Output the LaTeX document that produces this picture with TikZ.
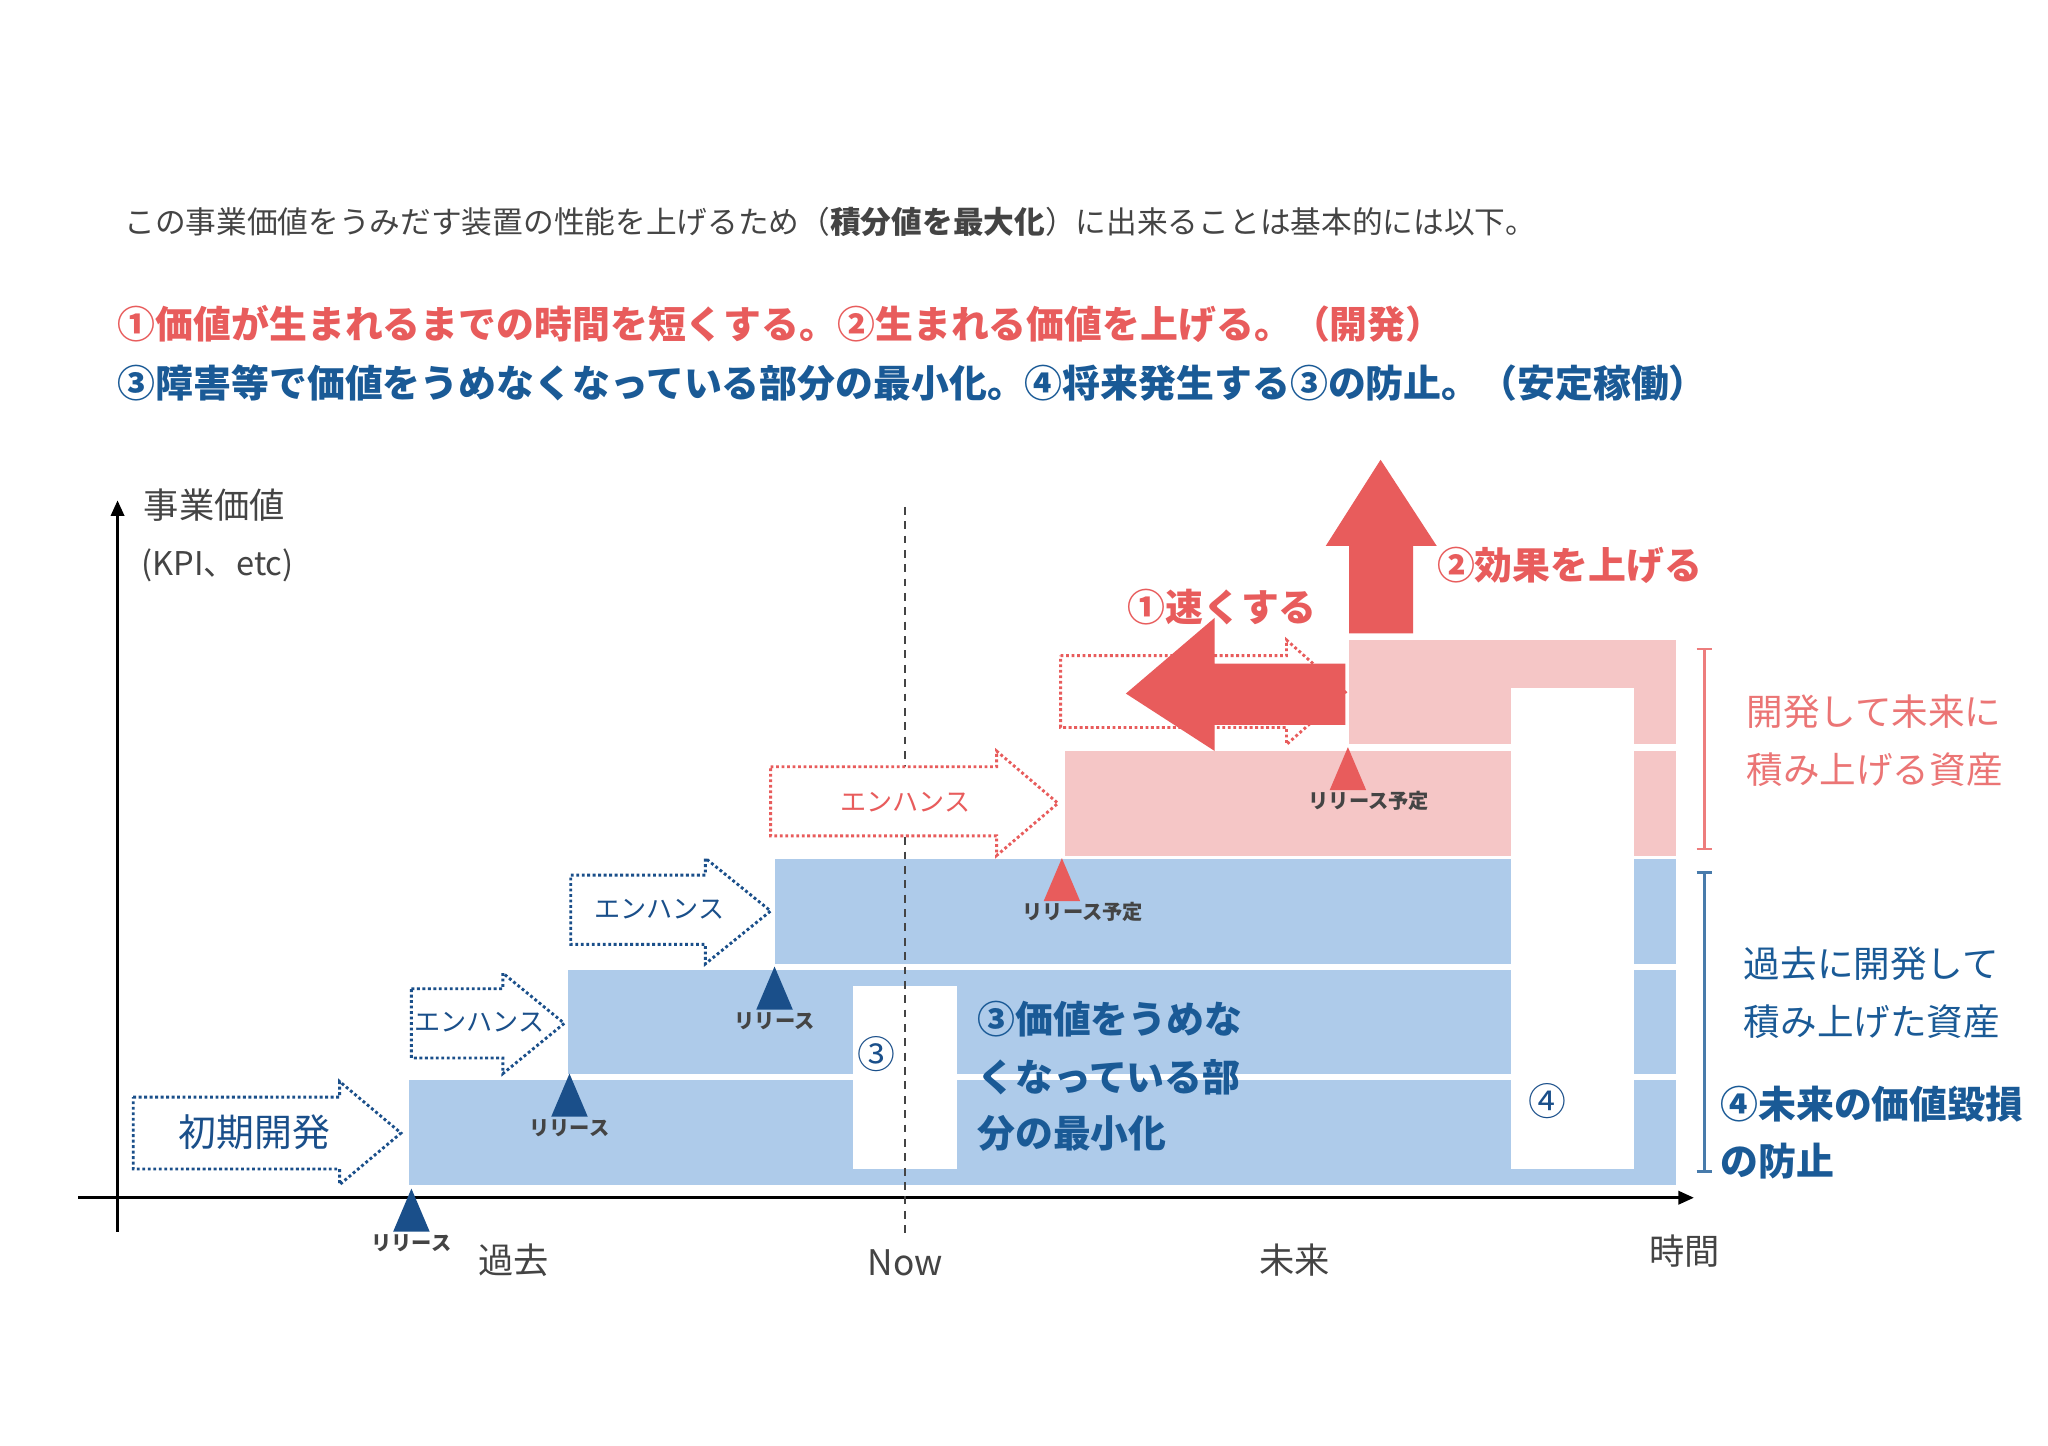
\documentclass[tikz,border=0pt]{standalone}
\usepackage{fontspec}
\setmainfont{Noto Sans CJK JP}
\usetikzlibrary{arrows.meta}
\definecolor{rd}{HTML}{E85C5C}
\definecolor{bl}{HTML}{1A5A96}
\definecolor{dbl}{HTML}{1A4F8A}
\definecolor{lbl}{HTML}{AECBEA}
\definecolor{pk}{HTML}{F5C6C6}
\definecolor{gy}{HTML}{444444}
\tikzset{
 fs/.style={font=\fontsize{#1}{#1}\selectfont},
 txt/.style={inner sep=0pt,anchor=west},
 dotb/.style={draw=dbl,line width=2.2pt,dotted,fill=white},
 dotr/.style={draw=rd,line width=2.2pt,dotted,fill=white},
 tri/.style={fill=dbl},
 trir/.style={fill=rd},
}
\newcommand{\rarr}[8]{\path[#1] (#2,#5)--(#3,#5)--(#3,#7)--(#4,{(#7+#8)/2})--(#3,#8)--(#3,#6)--(#2,#6)--cycle;}
\begin{document}
\begin{tikzpicture}[x=1pt,y=-1pt]
\useasboundingbox (0,0) rectangle (1568,1107);
\fill[white] (0,0) rectangle (1568,1107);
% header
\node[txt,fs=23.5,text=gy] (h1) at (95,170) {この事業価値をうみだす装置の性能を上げるため（\textbf{積分値を最大化}）に出来ることは基本的には以下。};
\node[txt,fs=29,text=rd,font=\bfseries\fontsize{29}{29}\selectfont] (h2) at (90,248) {①価値が生まれるまでの時間を短くする。②生まれる価値を上げる。（開発）};
\node[txt,fs=29,text=bl,font=\bfseries\fontsize{29}{29}\selectfont] (h3) at (90,293) {③障害等で価値をうめなくなっている部分の最小化。④将来発生する③の防止。（安定稼働）};
% bars
\fill[lbl] (313,827) rectangle (1283,907);
\fill[lbl] (435,743) rectangle (1283,822);
\fill[lbl] (593,658) rectangle (1283,738);
\fill[pk] (815,575) rectangle (1283,655);
\fill[pk] (1033,490) rectangle (1283,570);
\fill[white] (653,755) rectangle (733,895);
\fill[white] (1157,527) rectangle (1251,895);
% axes
\coordinate (yo) at (90,943); \coordinate (yt) at (90,383);
\coordinate (xo) at (60,917); \coordinate (xt) at (1297,917);
\draw[line width=2.5pt,-{Triangle[length=12pt,width=10pt]}] (yo)--(yt);
\draw[line width=2.5pt,-{Triangle[length=12pt,width=10pt]}] (xo)--(xt);
\coordinate (n1) at (693,388); \coordinate (n2) at (693,945);
\draw[gy,line width=2pt,dashed,dash pattern=on 6pt off 5pt] (n1)--(n2);
% dotted arrows
\rarr{dotb}{102}{260}{307}{840}{895}{828}{907}
\rarr{dotb}{315}{385}{432}{757}{810}{745}{822}
\rarr{dotb}{437}{540}{590}{670}{723}{657}{738}
\rarr{dotr}{590}{763}{810}{587}{640}{575}{655}
\rarr{dotr}{812}{985}{1030}{502}{557}{490}{570}
\node[fs=20,text=dbl] (e1) at (367,783) {エンハンス};
\node[fs=20,text=dbl] (e2) at (505,696) {エンハンス};
\node[fs=20,text=rd] (e3) at (693,614) {エンハンス};
\node[fs=29,text=dbl] (sk) at (195,867) {初期開発};
% big arrows
\fill[rd] (1030,508)--(930,508)--(930,473)--(862,531)--(930,575)--(930,555)--(1030,555)--cycle;
\fill[rd] (1033,485)--(1033,418)--(1015,418)--(1057,352)--(1100,418)--(1082,418)--(1082,485)--cycle;
% triangles
\fill[dbl] (301,943)--(329,943)--(315,910)--cycle;
\fill[dbl] (422,855)--(450,855)--(436,822)--cycle;
\fill[dbl] (579,773)--(607,773)--(593,740)--cycle;
\fill[rd] (799,690)--(827,690)--(813,657)--cycle;
\fill[rd] (1018,605)--(1046,605)--(1032,572)--cycle;
\node[fs=15.5,font=\bfseries\fontsize{15.5}{15.5}\selectfont,text=gy] (r1) at (315,952) {リリース};
\node[fs=15.5,font=\bfseries\fontsize{15.5}{15.5}\selectfont,text=gy] (r2) at (436,864) {リリース};
\node[fs=15.5,font=\bfseries\fontsize{15.5}{15.5}\selectfont,text=gy] (r3) at (593,782) {リリース};
\node[fs=15.5,font=\bfseries\fontsize{15.5}{15.5}\selectfont,text=gy] (r4) at (829,698) {リリース予定};
\node[fs=15.5,font=\bfseries\fontsize{15.5}{15.5}\selectfont,text=gy] (r5) at (1048,613) {リリース予定};
% axis labels
\node[txt,fs=27,text=gy] (yl1) at (110,387) {事業価値};
\node[txt,fs=25,text=gy] (yl2) at (108,433) {(KPI、etc)};
\node[fs=27,text=gy] (p) at (393,965) {過去};
\node[fs=27,text=gy] (nw) at (693,967) {Now};
\node[fs=27,text=gy] (f) at (991,965) {未来};
\node[fs=27,text=gy] (t) at (1290,958) {時間};
% labels
\node[fs=29,text=dbl] (c3) at (671,807) {③};
\node[fs=29,text=dbl] (c4) at (1185,843) {④};
\begin{scope}[every node/.style={txt,text=bl,font=\bfseries\fontsize{29}{29}\selectfont}]
\node (b1) at (748,780) {③価値をうめな};
\node (b2) at (748,825) {くなっている部};
\node (b3) at (748,868) {分の最小化};
\node (m1) at (1317,845) {④未来の価値毀損};
\node (m2) at (1317,889) {の防止};
\end{scope}
\begin{scope}[every node/.style={txt,text=rd,font=\bfseries\fontsize{29}{29}\selectfont}]
\node (q1) at (863,465) {①速くする};
\node (q2) at (1100,433) {②効果を上げる};
\end{scope}
% brackets
\draw[rd!80,line width=2pt] (1299,497)--(1311,497) (1305,497)--(1305,650) (1299,650)--(1311,650);
\draw[bl!80,line width=2pt] (1299,668)--(1311,668) (1305,668)--(1305,897) (1299,897)--(1311,897);
\node[txt,fs=28,text=rd!85] (k1) at (1337,545) {開発して未来に};
\node[txt,fs=28,text=rd!85] (k2) at (1337,589) {積み上げる資産};
\node[txt,fs=28,text=bl] (k3) at (1335,738) {過去に開発して};
\node[txt,fs=28,text=bl] (k4) at (1335,782) {積み上げた資産};
\end{tikzpicture}
\end{document}
